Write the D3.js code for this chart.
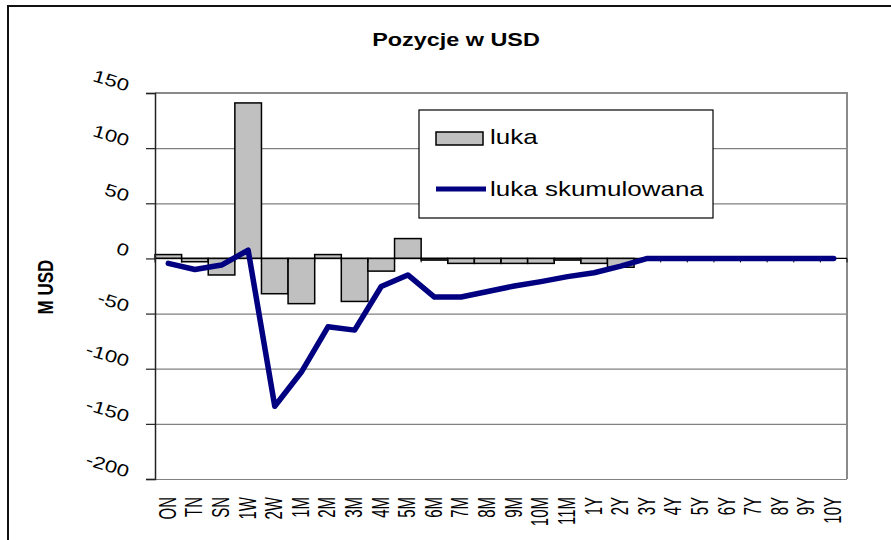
<!DOCTYPE html>
<html>
<head>
<meta charset="utf-8">
<script src="https://cdn.jsdelivr.net/npm/d3@7"></script>
<style>
  body { margin: 0; background: #fff; }
  svg text { font-family: Arial, "Liberation Sans", sans-serif; }
</style>
</head>
<body>
<div id="chart"></div>
<script>
const categories = ["ON", "TN", "SN", "1W", "2W", "1M", "2M", "3M", "4M", "5M", "6M", "7M", "8M",
    "9M", "10M", "11M", "1Y", "2Y", "3Y", "4Y", "5Y", "6Y", "7Y", "8Y", "9Y", "10Y"];
const luka = [3.5, -3, -15, 141, -32, -41, 3.5, -39, -11.5, 18, -1.5, -4.5, -4.5,
    -4.5, -4.5, -1.5, -4.5, -8, 0, 0, 0, 0, 0, 0, 0, 0];
const lukaSkum = [-4.5, -10, -6, 7.5, -134, -103, -62, -65, -25.5, -15, -35, -35, -30,
    -25, -21, -16.5, -13, -7, 0, 0, 0, 0, 0, 0, 0, 0];
const yTicks = [-200, -150, -100, -50, 0, 50, 100, 150];

const width = 891;
const height = 540;
const stretch = 1.3; // original picture is widened a bit

const svg = d3.select('#chart')
    .append('svg')
    .attr('width', width)
    .attr('height', height)

svg.append('rect')
    .attr('width', width)
    .attr('height', height)
    .attr('fill', 'white')

// outer chart frame
svg.append('rect')
    .attr('x', 8)
    .attr('y', 6)
    .attr('width', 1000)
    .attr('height', 1000)
    .attr('fill', 'none')
    .attr('stroke', '#111')
    .attr('stroke-width', 2)

const x = d3.scaleBand()
    .domain(categories)
    .range([155, 847])
    .padding(0)

const y = d3.scaleLinear()
    .domain([-200, 150])
    .range([479, 93])

// gridlines
svg.append('g')
    .attr('transform', 'translate(155,0)')
    .call(d3.axisLeft(y).tickValues(yTicks.filter(t => t !== 0)).tickSize(-692).tickFormat(''))
    .call(g => g.select('.domain').remove())
    .call(g => g.selectAll('line').attr('stroke', '#808080').attr('stroke-width', 1.2))

// plot frame top/right
svg.append('path')
    .attr('d', `M155,${y(150)}H847V${y(-200)}`)
    .attr('fill', 'none')
    .attr('stroke', '#8a8a8a')
    .attr('stroke-width', 2)

// bars
svg.append('g')
    .selectAll('rect')
    .data(luka)
    .join('rect')
    .attr('x', (d, i) => x(categories[i]))
    .attr('width', x.bandwidth())
    .attr('y', d => y(Math.max(0, d)))
    .attr('height', d => Math.abs(y(d) - y(0)))
    .attr('fill', '#c0c0c0')
    .attr('stroke', 'black')
    .attr('stroke-width', 1.5)

// zero axis with category tick marks
svg.append('line')
    .attr('x1', 155).attr('x2', 847)
    .attr('y1', y(0)).attr('y2', y(0))
    .attr('stroke', 'black')
    .attr('stroke-width', 1.2)

svg.append('g')
    .selectAll('line')
    .data(categories.map(c => x(c)).concat([x.range()[1]]))
    .join('line')
    .attr('x1', d => d).attr('x2', d => d)
    .attr('y1', y(0)).attr('y2', y(0) + 4)
    .attr('stroke', 'black')

// y axis
svg.append('g')
    .attr('transform', 'translate(155,0)')
    .call(d3.axisLeft(y).tickValues(yTicks).tickSize(9).tickFormat(d => d))
    .call(g => g.select('.domain').attr('stroke', '#222').attr('stroke-width', 1.5))
    .call(g => g.selectAll('line').attr('stroke', '#222').attr('stroke-width', 1.2))
    .call(g => g.selectAll('text')
        .attr('x', null)
        .attr('dy', null)
        .attr('text-anchor', 'end')
        .attr('font-size', 17)
        .attr('fill', 'black')
        .attr('transform', `translate(-28,-2) rotate(17) scale(${stretch},1)`))

// x labels
svg.append('g')
    .attr('transform', 'translate(0,479)')
    .call(d3.axisBottom(x).tickSize(0))
    .call(g => g.select('.domain').remove())
    .call(g => g.selectAll('text')
        .attr('y', null)
        .attr('dy', '0.36em')
        .attr('text-anchor', 'end')
        .attr('font-size', 15)
        .attr('fill', 'black')
        .attr('transform', 'translate(-1,18) scale(1.55,1) rotate(-90)'))

// cumulative line
const line = d3.line()
    .x((d, i) => x(categories[i]) + x.bandwidth() / 2)
    .y(d => y(d))

svg.append('path')
    .datum(lukaSkum)
    .attr('d', line)
    .attr('fill', 'none')
    .attr('stroke', '#000080')
    .attr('stroke-width', 5.5)
    .attr('stroke-linejoin', 'round')
    .attr('stroke-linecap', 'round')

// title
svg.append('text')
    .attr('transform', `translate(456,46) scale(${stretch},1)`)
    .attr('text-anchor', 'middle')
    .attr('font-size', 18)
    .attr('font-weight', 'bold')
    .text('Pozycje w USD')

// y title
svg.append('text')
    .attr('transform', `translate(53,287) scale(${stretch},1) rotate(-90)`)
    .attr('text-anchor', 'middle')
    .attr('font-size', 17)
    .attr('font-weight', 'bold')
    .text('M USD')

// legend
const legend = svg.append('g')

legend.append('rect')
    .attr('x', 419).attr('y', 110)
    .attr('width', 294).attr('height', 108)
    .attr('fill', 'white')
    .attr('stroke', 'black')
    .attr('stroke-width', 1.2)

legend.append('rect')
    .attr('x', 436).attr('y', 132)
    .attr('width', 47).attr('height', 13)
    .attr('fill', '#c0c0c0')
    .attr('stroke', 'black')
    .attr('stroke-width', 1.5)

legend.append('line')
    .attr('x1', 436).attr('x2', 486)
    .attr('y1', 189).attr('y2', 189)
    .attr('stroke', '#000080')
    .attr('stroke-width', 5)

legend.selectAll('text')
    .data(['luka', 'luka skumulowana'])
    .join('text')
    .attr('transform', (d, i) => `translate(490,${144 + i * 52}) scale(${stretch},1)`)
    .attr('font-size', 20)
    .text(d => d)
</script>
</body>
</html>
